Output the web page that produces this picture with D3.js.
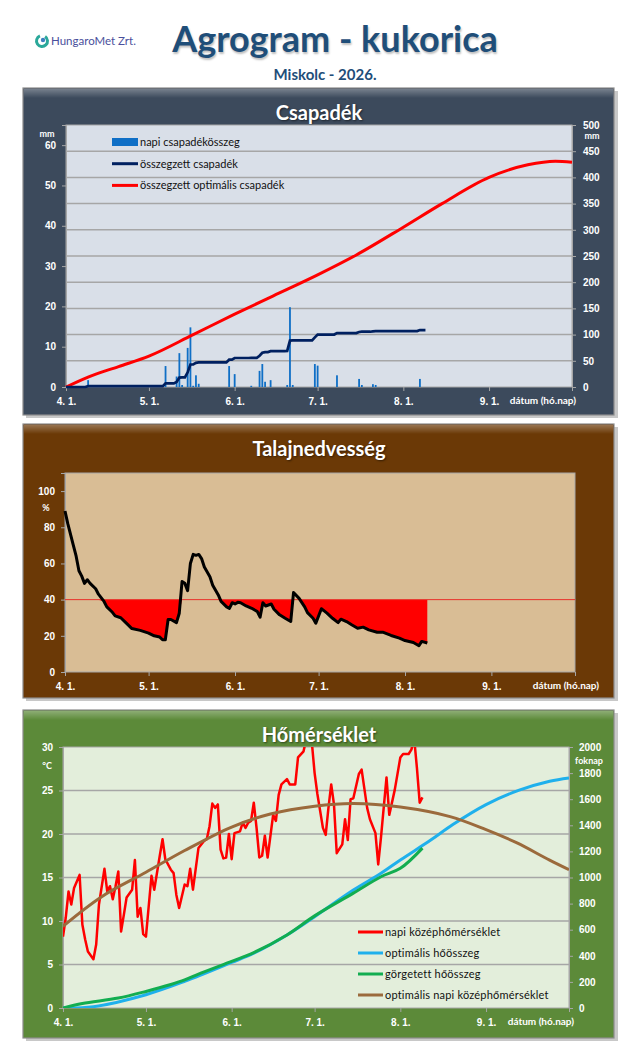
<!DOCTYPE html>
<html lang="hu">

<head>
    <title>Agrogram - kukorica</title>
    <meta charset="UTF-8">
    <script src="https://cdn.jsdelivr.net/npm/d3@7/dist/d3.min.js"></script>
    <style>
        body {
            margin: 0;
            background: #fff;
        }

        svg {
            display: block;
            font-family: Lato, "Open Sans", "DejaVu Sans", sans-serif;
        }

        .axis path,
        .axis line {
            stroke: #a6a6a6;
        }

        .axis text {
            fill: #fff;
            font-weight: bold;
            font-size: 10px;
        }

        .legend text {
            font-size: 11px;
            fill: #111;
        }
    </style>
</head>

<body>
    <div id="wrap"></div>
    <script>
        var YEAR = 2026;
        var parse = d3.timeParse('%Y-%m-%d');
        function day(s) { return parse(YEAR + '-' + s); }

        // napi csapadék (mm)
        var rainDates = ['04-09', '05-07', '05-11', '05-12', '05-13', '05-15', '05-16', '05-17', '05-18', '05-19', '05-30',
            '06-01', '06-07', '06-10', '06-11', '06-12', '06-14', '06-20', '06-21', '06-22', '06-30',
            '07-01', '07-08', '07-16', '07-17', '07-21', '07-22', '08-07'];
        var rainMm = [1.7, 5.2, 2.6, 8.4, 0.5, 9.7, 14.8, 0.3, 2.9, 0.8, 5.2,
            3.2, 0.3, 4.0, 5.7, 1.3, 1.7, 0.5, 19.8, 0.5, 5.7,
            5.3, 2.9, 2.0, 0.5, 0.7, 0.5, 2.0];
        var lastDay = '08-09';

        // összegzett optimális csapadék (mm)
        var optRainDates = ['04-01', '04-09', '04-20', '05-01', '05-17', '06-01', '06-15', '07-01', '07-15', '08-01', '08-15', '09-01', '09-15', '09-25', '10-01'];
        var optRainMm = [0, 19, 39, 59, 100, 139, 174, 214, 252, 305, 350, 400, 424, 431, 429];

        // talajnedvesség (%)
        var soilDates = ['04-01', '04-02', '04-04', '04-05', '04-06', '04-07', '04-08', '04-09', '04-10', '04-12',
            '04-13', '04-15', '04-16', '04-18', '04-19', '04-21', '04-23', '04-25', '04-28', '05-01',
            '05-03', '05-05', '05-06', '05-07', '05-08', '05-09', '05-11', '05-12', '05-13', '05-14',
            '05-15', '05-16', '05-17', '05-18', '05-19', '05-20', '05-21', '05-23', '05-24', '05-26',
            '05-27', '05-29', '05-30', '05-31', '06-01', '06-02', '06-03', '06-05', '06-07', '06-09',
            '06-10', '06-11', '06-12', '06-14', '06-15', '06-17', '06-19', '06-21', '06-22', '06-24',
            '06-26', '06-27', '06-29', '06-30', '07-01', '07-02', '07-04', '07-06', '07-08', '07-09',
            '07-11', '07-13', '07-15', '07-17', '07-19', '07-22', '07-24', '07-27', '07-30', '08-01',
            '08-04', '08-06', '08-07', '08-09'];
        var soilPct = [89, 82, 70, 64, 56, 53, 49, 51, 49, 46,
            43, 39, 36, 33, 31, 30, 27, 24, 23, 21.5,
            20, 19.3, 17.8, 17.8, 29, 29, 27.3, 32.5, 50, 49,
            45, 60, 65, 64.5, 65, 62.7, 58, 52.7, 48, 42.6,
            39, 36, 35.2, 38.3, 37.6, 38.5, 38.3, 36.5, 35.2, 33.4,
            30.3, 38.3, 36.5, 37.6, 34.7, 31.6, 29.7, 27.9, 43.9, 40.7,
            36, 32.8, 29.7, 27, 31, 35, 32.5, 29.7, 27.3, 29.2,
            27.9, 26, 24.2, 24.8, 23.3, 22, 22, 20.2, 18.7, 17.4,
            16.3, 14.5, 16.9, 16];
        var soilLimit = 40;

        // napi középhőmérséklet (°C)
        var tempDates = ['04-01', '04-02', '04-03', '04-04', '04-05', '04-07', '04-08', '04-09', '04-10', '04-12',
            '04-13', '04-14', '04-16', '04-17', '04-18', '04-19', '04-20', '04-21', '04-22', '04-23',
            '04-24', '04-26', '04-27', '04-28', '04-29', '04-30', '05-01', '05-03', '05-04', '05-06',
            '05-07', '05-08', '05-10', '05-11', '05-12', '05-13', '05-15', '05-16', '05-17', '05-18',
            '05-20', '05-22', '05-23', '05-24', '05-25', '05-26', '05-27', '05-28', '05-29', '05-30',
            '05-31', '06-01', '06-02', '06-04', '06-05', '06-06', '06-07', '06-08', '06-09', '06-10',
            '06-11', '06-12', '06-13', '06-14', '06-16', '06-17', '06-18', '06-19', '06-21', '06-22',
            '06-24', '06-25', '06-27', '06-28', '06-29', '06-30', '07-01', '07-02', '07-04', '07-05',
            '07-06', '07-07', '07-08', '07-09', '07-11', '07-12', '07-13', '07-14', '07-15', '07-17',
            '07-18', '07-20', '07-21', '07-23', '07-24', '07-25', '07-27', '07-28', '07-30', '08-01',
            '08-02', '08-04', '08-05', '08-06', '08-07', '08-08', '08-09'];
        var tempC = [8.2, 10.4, 13.4, 11.9, 13.8, 15.3, 9.6, 7.9, 6.5, 5.6,
            7.3, 11.9, 16, 13.4, 14, 12.5, 14, 15.7, 8.8, 10.7,
            12.7, 13.6, 17, 10.5, 11.5, 8.5, 8.2, 15.2, 13.6, 17.5,
            19.4, 17.1, 15.9, 15.5, 13, 11.5, 14.2, 14, 16, 13.6,
            18.4, 19.2, 19.4, 20.9, 23.5, 23, 23.4, 18.2, 17.2, 17.3,
            20, 17.1, 20.1, 20.3, 21.3, 20.7, 21.3, 21.5, 23.6, 20.7,
            17.3, 17.5, 19.8, 17.3, 22.2, 21.5, 24.5, 25.7, 26.3, 25.7,
            25.7, 28.8, 29.5, 31, 31.5, 30.5, 27, 24.6, 20.7, 19.9,
            23, 25.7, 23.4, 17.8, 18.8, 21.7, 19.3, 24, 24.1, 26.9,
            27.4, 23, 21.7, 20.1, 16.5, 19.6, 26.5, 22.2, 25.1, 28.8,
            29.2, 29.2, 29.7, 31, 27.6, 23.6, 24.2];

        // optimális napi középhőmérséklet (°C)
        var optTempDates = ['04-01', '04-15', '05-01', '05-15', '06-01', '06-15', '07-01', '07-15', '08-01', '08-19', '09-01', '09-12', '09-24', '10-01'];
        var optTempC = [9.4, 12.8, 15.6, 18.1, 20.8, 22.3, 23.2, 23.5, 23.1, 22.0, 20.5, 19.0, 17.0, 15.9];

        // optimális hőösszeg (foknap)
        var optHeatDates = ['04-01', '04-12', '05-01', '05-15', '06-01', '06-09', '06-21', '07-01', '07-15', '07-25', '08-01', '08-12', '08-20', '09-01', '09-13', '09-24', '10-01'];
        var optHeat = [0, 10, 102, 204, 349, 420, 560, 700, 904, 1032, 1134, 1287, 1406, 1559, 1669, 1737, 1763];

        // görgetett hőösszeg (foknap)
        var heatDates = ['04-01', '04-08', '04-21', '05-01', '05-10', '05-15', '05-20', '05-31', '06-09', '06-21', '07-01', '07-15', '07-25', '08-01', '08-09'];
        var heatSum = [0, 35, 76, 127, 180, 215, 260, 350, 425, 560, 706, 880, 1006, 1070, 1225];

        var monthTicks = ['04-01', '05-01', '06-01', '07-01', '08-01', '09-01', '10-01'].map(day);
        var xDomain = [day('04-01'), day('10-01')];

        var W = 640, H = 1059;
        var svg = d3.select('#wrap').append('svg').attr('width', W).attr('height', H);
        var defs = svg.append('defs');

        // fejléc
        var logo = svg.append('g').attr('transform', 'translate(42,41)');
        logo.append('path')
            .attr('d', d3.arc()({ innerRadius: 4, outerRadius: 7, startAngle: 0.6, endAngle: 5.9 }))
            .attr('fill', '#2aa89a');
        logo.append('circle').attr('r', 2.2).attr('cx', 1).attr('cy', -1).attr('fill', '#3f7fbf');
        svg.append('text').attr('x', 51).attr('y', 45).text('HungaroMet Zrt.')
            .attr('font-size', 11.5).attr('fill', '#4a4f9c');
        svg.append('text').attr('x', 335).attr('y', 52).attr('text-anchor', 'middle')
            .text('Agrogram - kukorica')
            .attr('font-size', 36).attr('font-weight', 'bold').attr('fill', '#1f4e79')
            .style('text-shadow', '1px 2px 2px rgba(0,0,0,0.25)');
        svg.append('text').attr('x', 325).attr('y', 80).attr('text-anchor', 'middle')
            .text('Miskolc - 2026.')
            .attr('font-size', 15).attr('font-weight', 'bold').attr('fill', '#1f4e79');

        // keret gradiens
        var bevel = defs.append('linearGradient').attr('id', 'bevel').attr('x1', 0).attr('y1', 0).attr('x2', 0).attr('y2', 1);
        bevel.append('stop').attr('offset', '0%').attr('stop-color', '#fff').attr('stop-opacity', 0.3);
        bevel.append('stop').attr('offset', '100%').attr('stop-color', '#fff').attr('stop-opacity', 0);

        function panel(y0, h, fill, title) {
            svg.append('rect').attr('x', 26).attr('y', y0 + 3).attr('width', 592).attr('height', h)
                .attr('fill', '#c8c8c8');
            svg.append('rect').attr('x', 23).attr('y', y0).attr('width', 591).attr('height', h)
                .attr('fill', fill).attr('stroke', '#8c8c8c').attr('stroke-width', 1.2);
            svg.append('rect').attr('x', 24).attr('y', y0 + 1).attr('width', 589).attr('height', 9)
                .attr('fill', 'url(#bevel)');
            svg.append('text').attr('x', 319).attr('y', y0 + 32).attr('text-anchor', 'middle')
                .text(title).attr('font-size', 20).attr('font-weight', 'bold').attr('fill', '#fff')
                .style('text-shadow', '1px 1px 2px rgba(0,0,0,0.5)');
        }

        function plotArea(id, x0, x1, y0, y1, bg) {
            svg.append('rect').attr('x', x0).attr('y', y0).attr('width', x1 - x0).attr('height', y1 - y0)
                .attr('fill', bg).attr('stroke', '#a6a6a6').attr('stroke-width', 1);
            defs.append('clipPath').attr('id', id).append('rect')
                .attr('x', x0).attr('y', y0).attr('width', x1 - x0).attr('height', y1 - y0);
        }

        function xAxis(x, y1, labelX) {
            var g = svg.append('g').attr('class', 'axis').attr('transform', 'translate(0,' + y1 + ')')
                .call(d3.axisBottom(x).tickValues(monthTicks).tickSize(4).tickPadding(7)
                    .tickFormat(function(d) { return d.getMonth() < 9 ? (d.getMonth() + 1) + '. 1.' : ''; }));
            g.select('.domain').remove();
            svg.append('text').attr('x', labelX).attr('y', y1 + 17).attr('text-anchor', 'end')
                .text('dátum (hó.nap)').attr('font-size', 10).attr('font-weight', 'bold').attr('fill', '#fff');
        }

        function unitLabel(xp, yp, t) {
            svg.append('text').attr('x', xp).attr('y', yp).attr('text-anchor', 'middle')
                .text(t).attr('font-size', 9).attr('font-weight', 'bold').attr('fill', '#fff');
        }

        function series(dates, vals) {
            return dates.map(function(d, i) { return { date: day(d), v: vals[i] }; });
        }

        // ---------- Csapadék ----------
        panel(88, 327, '#3c4a5c', 'Csapadék');
        var c = { l: 66, r: 572, t: 125, b: 387 };
        plotArea('clipC', c.l, c.r, c.t, c.b, '#d9dfe8');
        var xC = d3.scaleTime().domain(xDomain).range([c.l, c.r]);
        var yRain = d3.scaleLinear().domain([0, 65]).range([c.b, c.t]);
        var ySum = d3.scaleLinear().domain([0, 500]).range([c.b, c.t]);

        svg.append('g').selectAll('line').data(d3.range(50, 500, 50)).enter().append('line')
            .attr('x1', c.l).attr('x2', c.r).attr('y1', ySum).attr('y2', ySum)
            .attr('stroke', '#a6a6a6').attr('stroke-width', 1.5);

        svg.append('g').attr('class', 'axis').attr('transform', 'translate(' + c.l + ',0)')
            .call(d3.axisLeft(yRain).tickValues(d3.range(0, 61, 10)).tickSize(4).tickPadding(6));
        svg.append('g').attr('class', 'axis').attr('transform', 'translate(' + c.r + ',0)')
            .call(d3.axisRight(ySum).tickValues(d3.range(0, 501, 50)).tickSize(4).tickPadding(7));
        xAxis(xC, c.b, 576);
        unitLabel(47, 137, 'mm');
        unitLabel(592, 139, 'mm');

        var rain = series(rainDates, rainMm);
        svg.append('g').selectAll('rect').data(rain).enter().append('rect')
            .attr('x', function(d) { return xC(d.date) - 0.9; })
            .attr('width', 1.8)
            .attr('y', function(d) { return yRain(d.v); })
            .attr('height', function(d) { return c.b - yRain(d.v); })
            .attr('fill', '#0f6fc6');

        // összegzett csapadék naponként
        var days = d3.timeDay.range(day('04-01'), d3.timeDay.offset(day(lastDay), 1));
        var byDay = d3.rollup(rain, function(v) { return d3.sum(v, function(d) { return d.v; }); }, function(d) { return +d.date; });
        var cum = d3.cumsum(days, function(d) { return byDay.get(+d) || 0; });
        var cumData = days.map(function(d, i) { return { date: d, v: cum[i] }; });

        svg.append('path').datum(series(optRainDates, optRainMm))
            .attr('d', d3.line().x(function(d) { return xC(d.date); }).y(function(d) { return ySum(d.v); })
                .curve(d3.curveMonotoneX))
            .attr('fill', 'none').attr('stroke', '#ff0000').attr('stroke-width', 3);
        svg.append('path').datum(cumData)
            .attr('d', d3.line().x(function(d) { return xC(d.date); }).y(function(d) { return ySum(d.v); }))
            .attr('fill', 'none').attr('stroke', '#002060').attr('stroke-width', 2.7);

        var legC = svg.append('g').attr('class', 'legend');
        var legItems = ['napi csapadékösszeg', 'összegzett csapadék', 'összegzett optimális csapadék'];
        legItems.forEach(function(t, i) {
            var yy = 142 + i * 21.7;
            if (i === 0) {
                legC.append('rect').attr('x', 112).attr('y', yy - 4).attr('width', 26).attr('height', 8).attr('fill', '#0f6fc6');
            } else {
                legC.append('line').attr('x1', 112).attr('x2', 138).attr('y1', yy).attr('y2', yy)
                    .attr('stroke', i === 1 ? '#002060' : '#ff0000').attr('stroke-width', 3);
            }
            legC.append('text').attr('x', 140).attr('y', yy + 4).text(t);
        });

        // ---------- Talajnedvesség ----------
        panel(424, 274, '#6b3906', 'Talajnedvesség');
        var s = { l: 65, r: 575, t: 473, b: 672 };
        plotArea('clipS', s.l, s.r, s.t, s.b, '#d9bd95');
        var xS = d3.scaleTime().domain(xDomain).range([s.l, s.r]);
        var yS = d3.scaleLinear().domain([0, 110]).range([s.b, s.t]);
        svg.append('g').attr('class', 'axis').attr('transform', 'translate(' + s.l + ',0)')
            .call(d3.axisLeft(yS).tickValues(d3.range(0, 101, 20)).tickSize(4).tickPadding(6));
        xAxis(xS, s.b, 599);
        unitLabel(46, 511, '%');

        var soil = series(soilDates, soilPct);
        svg.append('path').datum(soil)
            .attr('d', d3.area().x(function(d) { return xS(d.date); })
                .y0(yS(soilLimit)).y1(function(d) { return yS(Math.min(d.v, soilLimit)); }))
            .attr('fill', '#ff0000');
        svg.append('line').attr('x1', s.l).attr('x2', s.r).attr('y1', yS(soilLimit)).attr('y2', yS(soilLimit))
            .attr('stroke', '#e8302a').attr('stroke-width', 1);
        svg.append('path').datum(soil)
            .attr('d', d3.line().x(function(d) { return xS(d.date); }).y(function(d) { return yS(d.v); }))
            .attr('fill', 'none').attr('stroke', '#000').attr('stroke-width', 3).attr('stroke-linejoin', 'round');

        // ---------- Hőmérséklet ----------
        panel(710, 328, '#5c8a39', 'Hőmérséklet');
        var t = { l: 63, r: 569, t: 747, b: 1008 };
        plotArea('clipT', t.l, t.r, t.t, t.b, '#e3eedb');
        var xT = d3.scaleTime().domain(xDomain).range([t.l, t.r]);
        var yT = d3.scaleLinear().domain([0, 30]).range([t.b, t.t]);
        var yH = d3.scaleLinear().domain([0, 2000]).range([t.b, t.t]);

        svg.append('g').selectAll('line').data(d3.range(5, 30, 5)).enter().append('line')
            .attr('x1', t.l).attr('x2', t.r).attr('y1', yT).attr('y2', yT)
            .attr('stroke', '#a6a6a6').attr('stroke-width', 1.5);
        svg.append('g').attr('class', 'axis').attr('transform', 'translate(' + t.l + ',0)')
            .call(d3.axisLeft(yT).tickValues(d3.range(0, 31, 5)).tickSize(4).tickPadding(6));
        svg.append('g').attr('class', 'axis').attr('transform', 'translate(' + t.r + ',0)')
            .call(d3.axisRight(yH).tickValues(d3.range(0, 2001, 200)).tickFormat(d3.format('d'))
                .tickSize(4).tickPadding(6));
        xAxis(xT, t.b, 574);
        unitLabel(47, 769, '°C');
        unitLabel(589, 764, 'foknap');

        var smooth = d3.curveCatmullRom.alpha(0.5);
        var lineTemp = d3.line().x(function(d) { return xT(d.date); }).y(function(d) { return yT(d.v); });
        var lineTempSmooth = d3.line().x(function(d) { return xT(d.date); }).y(function(d) { return yT(d.v); }).curve(smooth);
        var lineHeat = d3.line().x(function(d) { return xT(d.date); }).y(function(d) { return yH(d.v); }).curve(smooth);

        var gT = svg.append('g').attr('clip-path', 'url(#clipT)');
        gT.append('path').datum(series(optHeatDates, optHeat))
            .attr('d', lineHeat)
            .attr('fill', 'none').attr('stroke', '#1fb0ec').attr('stroke-width', 3);
        gT.append('path').datum(series(heatDates, heatSum))
            .attr('d', lineHeat)
            .attr('fill', 'none').attr('stroke', '#12ad50').attr('stroke-width', 3);
        gT.append('path').datum(series(tempDates, tempC))
            .attr('d', lineTemp)
            .attr('fill', 'none').attr('stroke', '#ff0000').attr('stroke-width', 2.5).attr('stroke-linejoin', 'round');
        gT.append('path').datum(series(optTempDates, optTempC))
            .attr('d', lineTempSmooth)
            .attr('fill', 'none').attr('stroke', '#9b6a3c').attr('stroke-width', 3);

        var legT = svg.append('g').attr('class', 'legend');
        var legTItems = [['napi középhőmérséklet', '#ff0000'], ['optimális hőösszeg', '#1fb0ec'],
            ['görgetett hőösszeg', '#12ad50'], ['optimális napi középhőmérséklet', '#9b6a3c']];
        legTItems.forEach(function(it, i) {
            var yy = 932 + i * 21;
            legT.append('line').attr('x1', 358).attr('x2', 383).attr('y1', yy).attr('y2', yy)
                .attr('stroke', it[1]).attr('stroke-width', 3);
            legT.append('text').attr('x', 385).attr('y', yy + 4).attr('letter-spacing', 0.2).text(it[0]);
        });
    </script>
</body>

</html>
